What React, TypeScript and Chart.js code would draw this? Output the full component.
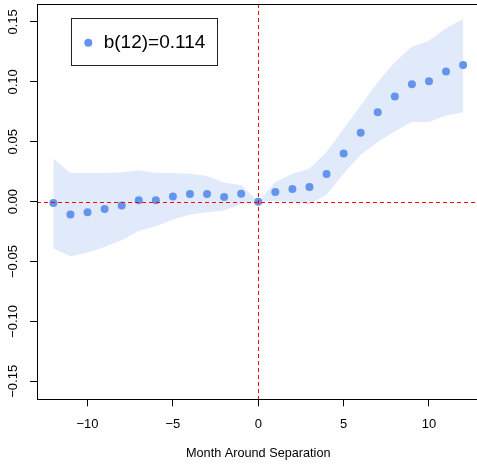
import React, { useEffect, useRef } from "react";
import { Chart, registerables } from "chart.js";

Chart.register(...registerables);

const months = [-12, -11, -10, -9, -8, -7, -6, -5, -4, -3, -2, -1, 0, 1, 2, 3, 4, 5, 6, 7, 8, 9, 10, 11, 12];
const estimates = [
  -0.0012, -0.0108, -0.0089, -0.0061, -0.0033, 0.0011, 0.0011, 0.0043, 0.0064, 0.0064, 0.0039, 0.0065, 0.0,
  0.008, 0.0105, 0.0122, 0.023, 0.0403, 0.0575, 0.0747, 0.0878, 0.098, 0.1005, 0.1086, 0.114,
];
const upperCI = [
  0.0358, 0.0239, 0.0239, 0.024, 0.0244, 0.0262, 0.024, 0.024, 0.0233, 0.0214, 0.0158, 0.014, 0.0,
  0.0164, 0.0233, 0.0275, 0.0414, 0.0608, 0.0803, 0.0997, 0.1164, 0.1294, 0.1344, 0.1447, 0.1525,
];
const lowerCI = [
  -0.0392, -0.0456, -0.0425, -0.0378, -0.0322, -0.0245, -0.0205, -0.015, -0.0108, -0.0088, -0.0073, -0.002, 0.0,
  0.0003, -0.0003, -0.0022, 0.0058, 0.0233, 0.0394, 0.0497, 0.0588, 0.0664, 0.0664, 0.0719, 0.0747,
];
const xTicks = [-10, -5, 0, 5, 10];
const yTicks = [-0.15, -0.1, -0.05, 0, 0.05, 0.1, 0.15];
const legendLabel = "b(12)=0.114";
const xTitle = "Month Around Separation";

const FONT = "'Liberation Sans', Arial, Helvetica, sans-serif";
const POINT_COLOR = "#6495ED";
const BAND_COLOR = "rgba(100,149,237,0.2)";

function fmt(v: number, dec: number): string {
  const s = Math.abs(v).toFixed(dec);
  return v < -1e-9 ? "\u2212" + s : s;
}

const framePlugin = {
  id: "framePlugin",
  afterDatasetsDraw(chart: any) {
    const { ctx, chartArea } = chart;
    const xs = chart.scales.x;
    const ys = chart.scales.y;
    ctx.save();
    // reference lines
    ctx.strokeStyle = "#ff0000";
    ctx.lineWidth = 1;
    ctx.setLineDash([4, 3]);
    const x0 = Math.round(xs.getPixelForValue(0)) + 0.5;
    const y0 = Math.round(ys.getPixelForValue(0)) + 0.5;
    ctx.beginPath();
    ctx.moveTo(x0, chartArea.top);
    ctx.lineTo(x0, chartArea.bottom);
    ctx.stroke();
    ctx.beginPath();
    ctx.moveTo(chartArea.left, y0);
    ctx.lineTo(chartArea.right, y0);
    ctx.stroke();
    ctx.restore();
  },
  afterDraw(chart: any) {
    const { ctx, chartArea } = chart;
    ctx.save();
    // box
    ctx.strokeStyle = "#000";
    ctx.lineWidth = 1;
    ctx.setLineDash([]);
    ctx.strokeRect(
      Math.round(chartArea.left) + 0.5,
      Math.round(chartArea.top) + 0.5,
      Math.round(chartArea.right - chartArea.left),
      Math.round(chartArea.bottom - chartArea.top)
    );
    // legend
    const ds = chart.data.datasets[0];
    const bx = chartArea.left + 34;
    const by = chartArea.top + 14;
    ctx.fillStyle = "#fff";
    ctx.fillRect(bx, by, 146, 47);
    ctx.strokeStyle = "#222";
    ctx.strokeRect(Math.round(bx) + 0.5, Math.round(by) + 0.5, 146, 47);
    ctx.fillStyle = ds.backgroundColor;
    ctx.beginPath();
    ctx.arc(chartArea.left + 51.3, chartArea.top + 38.7, 4, 0, Math.PI * 2);
    ctx.fill();
    ctx.fillStyle = "#000";
    ctx.font = `19px ${FONT}`;
    ctx.textAlign = "left";
    ctx.textBaseline = "middle";
    ctx.fillText(ds.label, chartArea.left + 66.7, chartArea.top + 38.7);
    ctx.restore();
  },
};

export default function App() {
  const ref = useRef<HTMLCanvasElement>(null);
  useEffect(() => {
    if (!ref.current) return;
    const chart = new Chart(ref.current, {
      type: "line",
      data: {
        datasets: [
          {
            label: legendLabel,
            data: months.map((m, i) => ({ x: m, y: estimates[i] })),
            showLine: false,
            pointRadius: 4,
            pointHoverRadius: 4,
            backgroundColor: POINT_COLOR,
            borderColor: POINT_COLOR,
            pointBorderWidth: 0,
            borderWidth: 0,
          },
          {
            label: "upper",
            data: months.map((m, i) => ({ x: m, y: upperCI[i] })),
            borderWidth: 0,
            borderColor: "rgba(0,0,0,0)",
            pointRadius: 0,
            backgroundColor: BAND_COLOR,
            fill: "+1",
            tension: 0,
          },
          {
            label: "lower",
            data: months.map((m, i) => ({ x: m, y: lowerCI[i] })),
            borderWidth: 0,
            borderColor: "rgba(0,0,0,0)",
            pointRadius: 0,
            fill: false,
            tension: 0,
          },
        ],
      },
      options: {
        animation: false,
        responsive: false,
        devicePixelRatio: 1,
        layout: { padding: { top: 3, right: 10.5, bottom: 0, left: 0 } },
        plugins: {
          legend: { display: false },
          tooltip: { enabled: false },
        },
        scales: {
          x: {
            type: "linear",
            min: -12.96,
            max: 12.96,
            afterBuildTicks: (scale: any) => {
              scale.ticks = xTicks.map((v) => ({ value: v }));
            },
            afterFit: (scale: any) => {
              scale.height = 66.7;
              scale.paddingLeft = 0;
              scale.paddingRight = 0;
            },
            grid: {
              display: true,
              drawOnChartArea: false,
              drawTicks: true,
              tickLength: 7,
              color: "#000",
              lineWidth: 1,
            },
            border: { display: true, color: "#000", width: 1 },
            ticks: {
              color: "#000",
              font: { family: FONT, size: 13 },
              padding: 10,
              maxRotation: 0,
              minRotation: 0,
              callback: (v: any) => fmt(Number(v), 0),
            },
            title: {
              display: true,
              text: xTitle,
              color: "#000",
              font: { family: FONT, size: 12.7 },
              padding: { top: 0, bottom: 5 },
            },
          },
          y: {
            type: "linear",
            min: -0.165,
            max: 0.165,
            afterBuildTicks: (scale: any) => {
              scale.ticks = yTicks.map((v) => ({ value: v }));
            },
            afterFit: (scale: any) => {
              scale.width = 37;
              scale.paddingTop = 0;
              scale.paddingBottom = 0;
            },
            grid: {
              display: true,
              drawOnChartArea: false,
              drawTicks: true,
              tickLength: 7,
              color: "#000",
              lineWidth: 1,
            },
            border: { display: true, color: "#000", width: 1 },
            ticks: {
              color: "#000",
              font: { family: FONT, size: 13 },
              padding: 0,
              minRotation: 90,
              maxRotation: 90,
              crossAlign: "center",
              callback: (v: any) => fmt(Number(v), 2),
            },
          },
        },
      },
      plugins: [framePlugin],
    } as any);
    return () => chart.destroy();
  }, []);
  return (
    <div style={{ position: "absolute", left: 0, top: 0, width: 477, height: 466, overflow: "hidden", background: "#fff" }}>
      <canvas ref={ref} width={490} height={466} style={{ width: 490, height: 466, display: "block" }} />
    </div>
  );
}
